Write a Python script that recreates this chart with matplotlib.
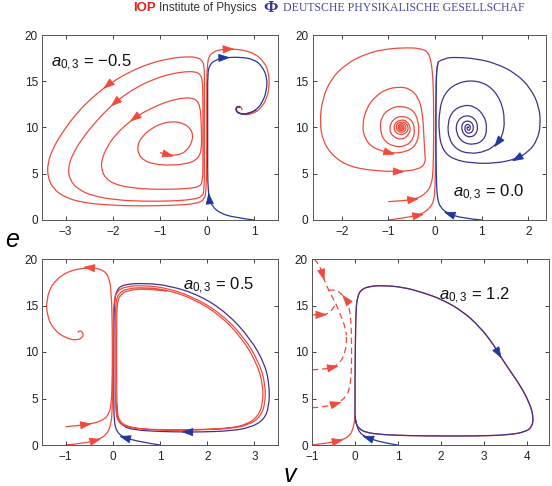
import numpy as np
import matplotlib
matplotlib.use('Agg')
from matplotlib import pyplot as plt
from matplotlib.path import Path
from matplotlib.patches import PathPatch

plt.rcParams['font.family'] = 'Liberation Sans'
plt.rcParams['mathtext.fontset'] = 'custom'
plt.rcParams['mathtext.it'] = 'Liberation Sans:italic'
plt.rcParams['mathtext.rm'] = 'Liberation Sans'

RED = '#ef4a3c'
BLUE = '#22389c'
PURPLE = '#44308c'

# ---------------- data, points are (v, e) ----------------
# a_{0,3} = -0.5
a1_red = [(-1.00, 7.28), (-0.79, 6.99), (-0.57, 7.06), (-0.42, 7.57), (-0.33, 8.36), (-0.30, 9.19),
          (-0.36, 9.91), (-0.50, 10.45), (-0.72, 10.67), (-0.96, 10.45), (-1.18, 9.91), (-1.37, 9.08),
          (-1.48, 8.11), (-1.46, 7.14), (-1.34, 6.41), (-1.11, 6.02), (-0.79, 5.91), (-0.47, 6.05),
          (-0.26, 6.38), (-0.15, 7.03), (-0.12, 7.93), (-0.12, 9.37), (-0.13, 10.81), (-0.15, 12.25),
          (-0.22, 12.97), (-0.36, 13.23), (-0.57, 13.15), (-0.86, 12.79), (-1.14, 12.18), (-1.43, 11.42),
          (-1.67, 10.52), (-1.92, 9.37), (-2.12, 7.93), (-2.24, 6.49), (-2.24, 5.41), (-2.15, 4.50),
          (-1.96, 3.86), (-1.64, 3.50), (-1.21, 3.32), (-0.72, 3.32), (-0.36, 3.42), (-0.16, 3.60),
          (-0.10, 4.14), (-0.09, 5.77), (-0.09, 9.37), (-0.09, 12.97), (-0.10, 15.14), (-0.15, 15.78),
          (-0.26, 16.04), (-0.47, 16.04), (-0.79, 15.78), (-1.14, 15.21), (-1.50, 14.34), (-1.85, 13.15),
          (-2.13, 11.89), (-2.42, 10.27), (-2.67, 8.65), (-2.86, 7.03), (-2.95, 5.59), (-2.91, 4.32),
          (-2.74, 3.32), (-2.42, 2.59), (-1.92, 2.16), (-1.35, 2.02), (-0.72, 2.05), (-0.29, 2.23),
          (-0.11, 2.52), (-0.06, 3.24), (-0.06, 6.49), (-0.06, 11.17), (-0.06, 14.77), (-0.06, 16.58),
          (-0.11, 17.30), (-0.22, 17.59), (-0.43, 17.66), (-0.79, 17.48), (-1.21, 16.94), (-1.64, 16.04),
          (-2.06, 14.77), (-2.42, 13.33), (-2.77, 11.53), (-3.06, 9.55), (-3.27, 7.75), (-3.38, 6.13),
          (-3.38, 4.68), (-3.27, 3.42), (-3.02, 2.45), (-2.63, 1.87), (-2.06, 1.59), (-1.35, 1.51),
          (-0.72, 1.59), (-0.26, 1.73), (-0.06, 2.16), (-0.02, 3.24), (-0.01, 6.49), (-0.01, 11.17),
          (-0.01, 14.77), (0.00, 16.58), (0.03, 17.66), (0.13, 18.20), (0.31, 18.45), (0.52, 18.49),
          (0.77, 18.38), (1.02, 17.95), (1.20, 17.12), (1.30, 16.04), (1.32, 14.41), (1.25, 12.97),
          (1.13, 12.07), (0.99, 11.53), (0.81, 11.35), (0.67, 11.53), (0.60, 11.96), (0.63, 12.32),
          (0.72, 12.25), (0.74, 11.89)]
a1_blue = [(0.99, 0.0), (0.56, 0.29), (0.28, 0.72), (0.11, 1.44), (0.04, 2.45), (0.01, 3.96),
           (0.01, 7.57), (0.01, 12.97), (0.01, 15.86), (0.05, 16.76), (0.17, 17.30), (0.38, 17.55),
           (0.70, 17.62), (0.99, 17.37), (1.16, 16.65), (1.27, 15.42), (1.26, 14.05), (1.18, 12.79),
           (1.04, 11.89), (0.86, 11.46), (0.69, 11.46), (0.60, 11.82), (0.63, 12.25), (0.70, 12.18)]
a1_red_arrows = [(-2.13, 14.4), (-1.99, 12.6), (-1.58, 11.0), (-0.79, 6.99), (0.49, 18.45)]
a1_blue_arrows = [(0.03, 2.52), (0.40, 17.55)]

# a_{0,3} = 0.0
a2_red1 = [(-1.0, 1.98), (-0.7, 2.08), (-0.43, 2.24), (-0.18, 2.88), (-0.07, 3.96), (-0.04, 5.4),
           (-0.03, 8.65), (-0.03, 12.0), (-0.04, 15.0), (-0.08, 17.1), (-0.15, 18.2), (-0.33, 18.56),
           (-0.61, 18.63), (-1.04, 18.5), (-1.47, 18.0), (-1.9, 16.9), (-2.22, 15.3), (-2.41, 13.15),
           (-2.47, 10.6), (-2.4, 8.5), (-2.18, 6.85), (-1.83, 5.77), (-1.33, 5.33), (-0.74, 5.22),
           (-0.33, 5.5), (-0.2, 6.2), (-0.22, 7.2), (-0.24, 9.2), (-0.27, 11.7), (-0.36, 13.3),
           (-0.54, 14.2), (-0.76, 14.4), (-1.04, 14.16), (-1.29, 13.33), (-1.47, 12.07), (-1.56, 10.27),
           (-1.51, 8.83), (-1.33, 7.75), (-0.94, 7.21), (-0.65, 7.32), (-0.43, 7.93), (-0.34, 9.19),
           (-0.36, 10.8), (-0.47, 11.9), (-0.72, 12.36), (-0.97, 12.07), (-1.15, 11.17), (-1.18, 9.91),
           (-1.11, 8.65), (-0.9, 7.93), (-0.65, 7.93), (-0.47, 8.65), (-0.43, 9.91), (-0.51, 10.92),
           (-0.72, 11.28), (-0.9, 10.92), (-0.99, 9.91), (-0.91, 9.0), (-0.72, 8.65), (-0.56, 9.19),
           (-0.52, 9.98), (-0.6, 10.7), (-0.72, 10.85), (-0.84, 10.6), (-0.89, 10.0), (-0.84, 9.4),
           (-0.72, 9.2), (-0.6, 9.45), (-0.57, 10.0), (-0.62, 10.5), (-0.72, 10.62), (-0.81, 10.45),
           (-0.84, 10.0), (-0.8, 9.6), (-0.72, 9.45), (-0.64, 9.6), (-0.62, 10.0), (-0.65, 10.35),
           (-0.72, 10.45), (-0.78, 10.3), (-0.8, 10.0), (-0.77, 9.72), (-0.72, 9.65), (-0.67, 9.75),
           (-0.66, 10.0), (-0.68, 10.22), (-0.72, 10.28), (-0.76, 10.18), (-0.77, 10.0), (-0.75, 9.85),
           (-0.72, 9.8), (-0.69, 9.88), (-0.69, 10.05), (-0.72, 10.12), (-0.74, 10.04), (-0.73, 9.95),
           (-0.72, 10.0)]
a2_red2 = [(-1.0, 0.0), (-0.7, 0.2), (-0.32, 0.54), (-0.11, 1.26), (-0.02, 2.16), (0.0, 3.6),
           (0.01, 6.0), (0.01, 10.0), (0.02, 14.0), (0.03, 16.2), (0.07, 17.1)]
a2_blue = [(1.0, 0.0), (0.59, 0.18), (0.27, 0.72), (0.11, 1.37), (0.05, 2.34), (0.03, 3.96),
           (0.02, 7.57), (0.02, 12.97), (0.03, 16.2), (0.07, 17.1)]
a2_right = [(0.07, 17.1), (0.2, 17.5), (0.45, 17.6), (0.88, 17.44), (1.3, 16.94), (1.73, 15.86),
            (2.05, 14.23), (2.23, 12.25), (2.26, 10.27), (2.19, 8.65), (2.01, 7.39), (1.72, 6.56),
            (1.3, 6.13), (0.8, 6.13), (0.38, 6.56), (0.16, 7.57), (0.08, 9.37), (0.09, 11.89),
            (0.2, 13.69), (0.45, 14.77), (0.8, 15.14), (1.16, 14.59), (1.41, 12.97), (1.5, 10.81),
            (1.44, 9.01), (1.32, 8.22), (1.09, 7.39), (0.73, 7.14), (0.45, 7.64), (0.29, 8.83),
            (0.27, 10.45), (0.36, 11.71), (0.59, 12.43), (0.84, 12.32), (1.05, 11.35), (1.12, 9.91),
            (1.05, 8.65), (0.84, 8.11), (0.59, 8.36), (0.45, 9.37), (0.46, 10.63), (0.63, 11.35),
            (0.84, 11.1), (0.93, 10.09), (0.86, 9.08), (0.68, 8.94), (0.56, 9.66), (0.59, 10.63),
            (0.77, 10.74), (0.84, 9.91), (0.76, 9.3), (0.63, 9.55), (0.65, 10.38), (0.76, 10.27),
            (0.75, 9.66), (0.68, 9.75), (0.69, 10.1), (0.73, 10.0), (0.7, 10.0)]
a2_red_arrows = [(-0.43, 2.24), (-0.74, 5.22), (-0.94, 7.21)]
a2_red2_arrows = [(-0.32, 0.54)]
a2_blue_arrows = [(0.27, 0.72)]
a2_right_arrows = [(1.72, 6.56), (1.32, 8.22)]

# a_{0,3} = 0.5
a3_red1 = [(-1.0, 1.97), (-0.75, 2.08), (-0.53, 2.23), (-0.26, 2.51), (-0.08, 3.23), (-0.03, 4.49),
           (-0.01, 7.36), (-0.01, 12.75), (-0.03, 16.34), (-0.08, 18.13), (-0.23, 18.92), (-0.54, 19.1),
           (-0.97, 18.67), (-1.28, 17.41), (-1.41, 15.62), (-1.39, 13.82), (-1.25, 12.39), (-1.0, 11.49),
           (-0.76, 11.24), (-0.63, 11.6), (-0.63, 12.1), (-0.7, 12.32), (-0.74, 12.1)]
a3_red2 = [(-1.0, 0.0), (-0.61, 0.18), (-0.33, 0.54), (-0.13, 1.08), (-0.04, 2.15), (-0.01, 3.77),
           (0.0, 7.36), (0.01, 12.75), (0.02, 15.44), (0.08, 16.52), (0.27, 17.06), (0.66, 17.16),
           (1.15, 16.88), (1.71, 15.91), (2.28, 14.18), (2.77, 11.67), (3.09, 8.98), (3.23, 6.64),
           (3.23, 4.49), (3.13, 3.05), (2.88, 2.15), (2.49, 1.76), (1.86, 1.62), (1.15, 1.58),
           (0.59, 1.69), (0.27, 1.97), (0.11, 2.51), (0.06, 3.59), (0.05, 7.36), (0.05, 12.75),
           (0.06, 15.3), (0.12, 16.3), (0.3, 16.82), (0.66, 16.95), (1.15, 16.68), (1.71, 15.72),
           (2.26, 14.0), (2.73, 11.55), (3.04, 8.9), (3.18, 6.6), (3.18, 4.5), (3.08, 3.1),
           (2.84, 2.2), (2.46, 1.8), (1.86, 1.66), (1.15, 1.62), (0.59, 1.73), (0.3, 2.0),
           (0.14, 2.55), (0.09, 3.6), (0.08, 7.36), (0.08, 12.75), (0.09, 15.2), (0.15, 16.15),
           (0.33, 16.65), (0.66, 16.8), (1.15, 16.55)]
a3_blue = [(1.0, 0.0), (0.59, 0.32), (0.22, 0.83), (0.08, 1.44), (0.03, 2.51), (0.02, 4.49),
           (0.02, 10.95), (0.03, 15.26), (0.08, 16.7), (0.23, 17.27), (0.66, 17.41), (1.22, 17.13),
           (1.86, 16.05), (2.42, 14.18), (2.91, 11.49), (3.23, 8.62), (3.32, 6.28), (3.31, 4.13),
           (3.2, 2.69), (2.91, 1.87), (2.49, 1.51), (1.86, 1.4), (1.54, 1.4), (1.01, 1.44),
           (0.44, 1.62), (0.2, 2.05), (0.09, 2.87), (0.07, 4.49)]
a3_red1_arrows = [(-0.53, 2.23), (-0.54, 19.1)]
a3_red2_arrows = [(-0.33, 0.54)]
a3_blue_arrows = [(0.22, 0.83), (1.54, 1.45)]

# a_{0,3} = 1.2
a4_loop = [(0.0, 3.05), (0.0, 7.36), (0.01, 10.95), (0.02, 14.54), (0.06, 15.98), (0.14, 16.7),
           (0.33, 17.06), (0.64, 17.16), (1.11, 16.98), (1.57, 16.41), (2.04, 15.62), (2.51, 14.36),
           (2.89, 12.75), (3.2, 10.95), (3.36, 9.69), (3.59, 8.08), (3.86, 6.28), (4.06, 4.49),
           (4.15, 3.05), (4.12, 1.97), (3.98, 1.44), (3.59, 1.08), (2.82, 0.97), (2.04, 0.97),
           (1.26, 1.0), (0.64, 1.11), (0.26, 1.33), (0.09, 1.76), (0.02, 2.33), (0.0, 3.05)]
a4_red = [(-1.0, 0.0), (-0.67, 0.18), (-0.36, 0.47), (-0.13, 0.9), (-0.04, 1.8), (-0.01, 2.7), (0.0, 3.05)]
a4_blue = [(0.99, 0.0), (0.64, 0.25), (0.26, 0.83), (0.1, 1.33), (0.04, 2.15), (0.0, 3.05)]
a4_dash1 = [(-1.0, 4.0), (-0.7, 4.1), (-0.4, 4.5), (-0.2, 5.2), (-0.12, 6.2), (-0.09, 7.5), (-0.08, 9.0),
            (-0.08, 11.0), (-0.09, 13.0), (-0.12, 14.5), (-0.2, 15.6), (-0.36, 16.5), (-0.51, 16.7),
            (-0.62, 16.6)]
a4_dash2 = [(-1.0, 8.1), (-0.79, 8.1), (-0.47, 8.4), (-0.32, 9.0), (-0.23, 10.0), (-0.2, 11.0), (-0.2, 11.8)]
a4_dash3 = [(-0.95, 20.0), (-0.82, 19.35), (-0.74, 18.1), (-0.67, 17.2), (-0.55, 16.1), (-0.43, 15.05),
            (-0.32, 13.8), (-0.22, 12.55), (-0.2, 11.8)]
a4_dash4 = [(-1.0, 14.0), (-0.74, 14.0), (-0.59, 14.2), (-0.51, 14.7), (-0.46, 15.1)]
a4_red_arrows = [(-0.36, 0.47)]
a4_blue_arrows = [(0.26, 0.83)]
a4_loop_arrows = [(3.36, 9.69)]
a4_dash_arrows = [(a4_dash1, (-0.4, 4.5)), (a4_dash1, (-0.24, 15.8)), (a4_dash2, (-0.47, 8.4)),
                  (a4_dash3, (-0.74, 18.1)), (a4_dash4, (-0.74, 14.0))]

labels = ['\u22120.5', '0.0', '0.5', '1.2']


def draw(ax, path, color, dashes=None):
    # smooth stroke: the read points act as quadratic control points
    p = np.array(path, float)
    verts = [p[0]]
    codes = [Path.MOVETO]
    for i in range(1, len(p) - 1):
        verts += [p[i], (p[i] + p[i + 1]) / 2]
        codes += [Path.CURVE3, Path.CURVE3]
    verts.append(p[-1])
    codes.append(Path.LINETO)
    patch = PathPatch(Path(verts, codes), fill=False, edgecolor=color, lw=0.9)
    if dashes:
        patch.set_linestyle((0, dashes))
    ax.add_patch(patch)


def arrow(ax, path, near, color):
    # small filled head on the path, pointing along it
    pts = ax.transData.transform(np.array(path))
    q0 = ax.transData.transform(near)
    best = None
    for a, b in zip(pts[:-1], pts[1:]):
        d = b - a
        L2 = (d ** 2).sum()
        if L2 == 0:
            continue
        t = np.clip(((q0 - a) * d).sum() / L2, 0, 1)
        q = a + t * d
        dist = ((q - q0) ** 2).sum()
        if best is None or dist < best[0]:
            best = (dist, q, d / np.sqrt(L2))
    _, q, u = best
    inv = ax.transData.inverted()
    ax.annotate('', xy=inv.transform(q + 4 * u), xytext=inv.transform(q - 4 * u),
                arrowprops=dict(arrowstyle='-|>,head_length=0.9,head_width=0.32', color=color,
                                lw=0.6, shrinkA=0, shrinkB=0, mutation_scale=8))


def panel(rect, xlim, xticks):
    ax = fig.add_axes(rect)
    ax.set_xlim(*xlim)
    ax.set_ylim(0, 20)
    ax.set_xticks(xticks)
    ax.set_yticks([0, 5, 10, 15, 20])
    ax.tick_params(direction='in', top=True, right=True, length=3, width=0.6,
                   labelsize=8.5, colors='#222222', pad=3)
    ax.tick_params(axis='x', pad=4.5)
    for s in ax.spines.values():
        s.set_linewidth(0.7)
        s.set_color('#555555')
    return ax


def tag(ax, x, y, value):
    ax.text(x, y, r'$a_{0,3}$ = ' + value, fontsize=12, va='center', ha='left', color='#111111')


fig = plt.figure(figsize=(5.52, 4.86), dpi=100)

# top left
ax1 = panel([42 / 552, 1 - 220 / 486, 236 / 552, 185 / 486], (-3.5, 1.5), [-3, -2, -1, 0, 1])
draw(ax1, a1_red, RED)
draw(ax1, a1_blue, BLUE)
draw(ax1, a1_blue[-6:], PURPLE)
for p in a1_red_arrows:
    arrow(ax1, a1_red, p, RED)
for p in a1_blue_arrows:
    arrow(ax1, a1_blue, p, BLUE)
tag(ax1, -3.3, 17.0, labels[0])

# top right
ax2 = panel([312.7 / 552, 1 - 220 / 486, 233.5 / 552, 185 / 486], (-2.62, 2.38), [-2, -1, 0, 1, 2])
draw(ax2, a2_red1, RED)
draw(ax2, a2_red2, RED)
draw(ax2, a2_blue, BLUE)
draw(ax2, a2_right, PURPLE)
for p in a2_red_arrows:
    arrow(ax2, a2_red1, p, RED)
for p in a2_red2_arrows:
    arrow(ax2, a2_red2, p, RED)
for p in a2_blue_arrows:
    arrow(ax2, a2_blue, p, BLUE)
for p in a2_right_arrows:
    arrow(ax2, a2_right, p, BLUE)
tag(ax2, 0.38, 2.9, labels[1])

# bottom left
ax3 = panel([42 / 552, 1 - 445 / 486, 236 / 552, 186 / 486], (-1.5, 3.5), [-1, 0, 1, 2, 3])
draw(ax3, a3_blue, PURPLE)
draw(ax3, a3_red1, RED)
draw(ax3, a3_red2, RED)
for p in a3_red1_arrows:
    arrow(ax3, a3_red1, p, RED)
for p in a3_red2_arrows:
    arrow(ax3, a3_red2, p, RED)
for p in a3_blue_arrows:
    arrow(ax3, a3_blue, p, BLUE)
tag(ax3, 1.48, 17.1, labels[2])

# bottom right
ax4 = panel([312 / 552, 1 - 445 / 486, 236.5 / 552, 186 / 486], (-1, 4.5), [-1, 0, 1, 2, 3, 4])
for d in [a4_dash1, a4_dash2, a4_dash3, a4_dash4]:
    draw(ax4, d, RED, dashes=(5, 3))
draw(ax4, a4_red, RED)
draw(ax4, a4_loop, RED)
draw(ax4, a4_blue, BLUE)
draw(ax4, a4_loop, PURPLE)
for p in a4_red_arrows:
    arrow(ax4, a4_red, p, RED)
for p in a4_blue_arrows:
    arrow(ax4, a4_blue, p, BLUE)
for p in a4_loop_arrows:
    arrow(ax4, a4_loop, p, BLUE)
for path, p in a4_dash_arrows:
    arrow(ax4, path, p, RED)
tag(ax4, 1.96, 16.0, labels[3])

# axis letters
fig.text(12 / 552, 1 - 240 / 486, 'e', fontsize=18, style='italic', ha='center', va='center')
fig.text(290 / 552, 1 - 475 / 486, 'v', fontsize=18, style='italic', ha='center', va='center')

# publisher banner
yb = 1 - 8 / 486
fig.text(133 / 552, yb, 'IOP', fontsize=9.5, fontweight='bold', color='#e2231a', va='center')
fig.text(159 / 552, yb, 'Institute of Physics', fontsize=8.4, color='#333333', va='center')
fig.text(263 / 552, yb, '\u03a6', fontsize=12.5, fontweight='bold', color='#3a3a9a', va='center',
         family='Liberation Serif')
fig.text(283 / 552, yb, 'DEUTSCHE PHYSIKALISCHE GESELLSCHAF', fontsize=8.5, color='#4848a0',
         va='center', family='Liberation Serif')

fig.savefig('out.png', dpi=100)
